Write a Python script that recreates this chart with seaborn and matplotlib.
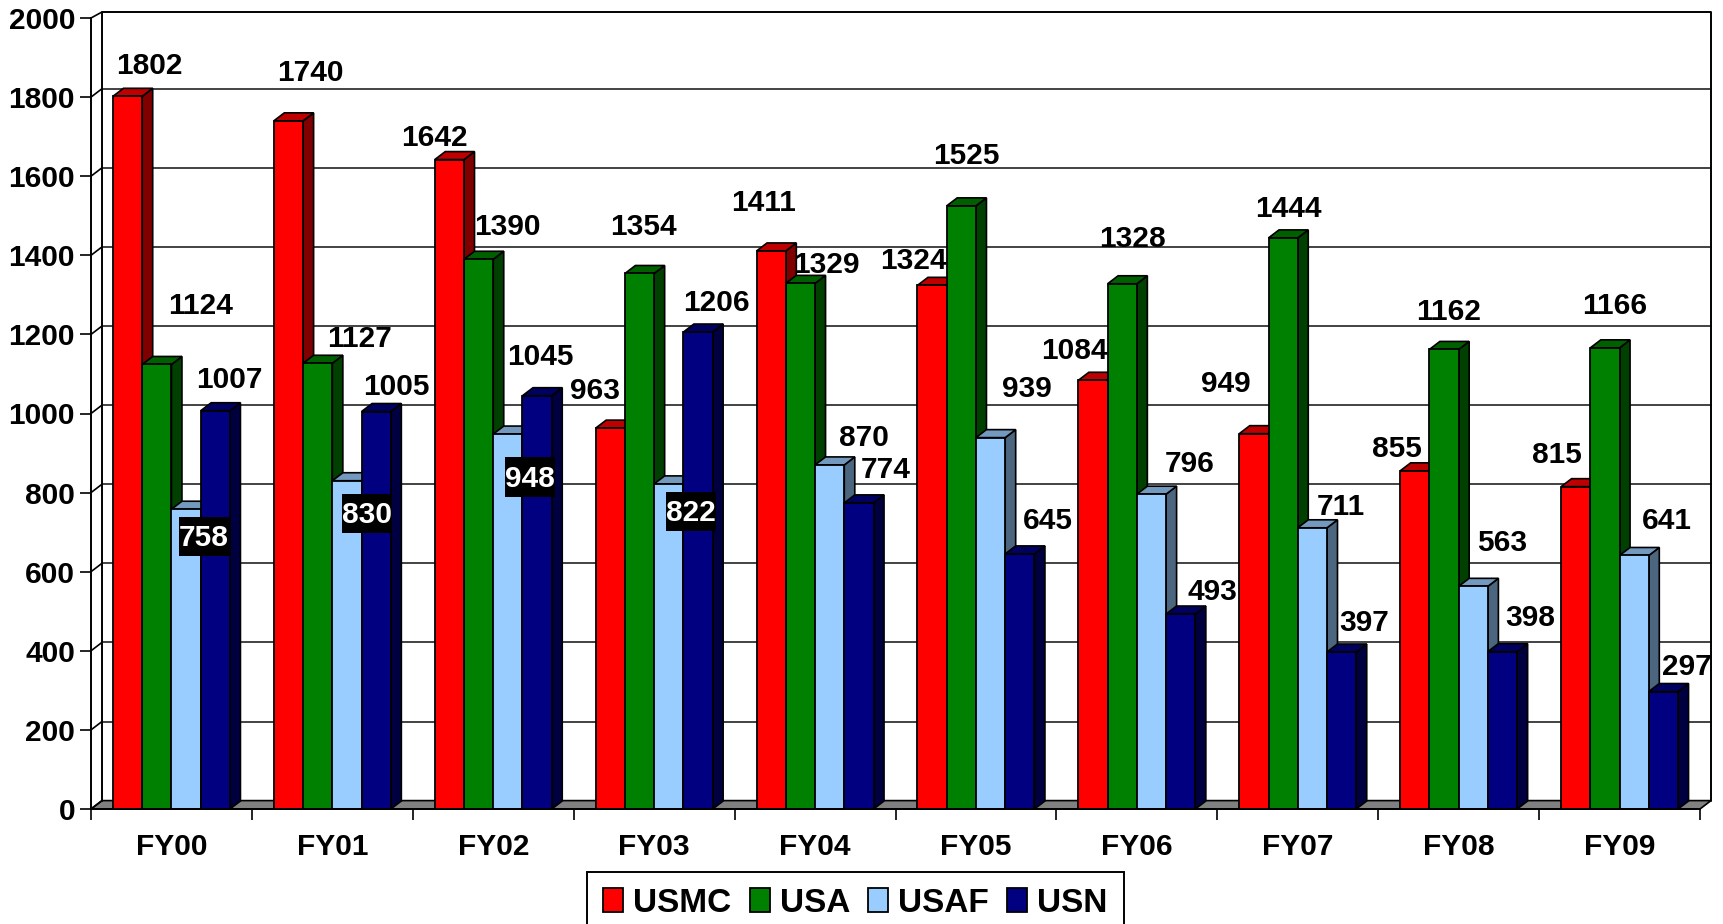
# ==============================================================
# plot.py
# Fake-3D clustered bars by branch and fiscal year
# ==============================================================

import numpy as np
import pandas as pd
import matplotlib
matplotlib.use("Agg")
import matplotlib.pyplot as plt
from matplotlib.patches import Polygon, Rectangle
from matplotlib.colors import to_rgb
import seaborn as sns

# ==============================================================
# Data
# ==============================================================
years = ["FY00", "FY01", "FY02", "FY03", "FY04", "FY05", "FY06", "FY07", "FY08", "FY09"]
branches = ["USMC", "USA", "USAF", "USN"]
usmc = [1802, 1740, 1642, 963, 1411, 1324, 1084, 949, 855, 815]
usa = [1124, 1127, 1390, 1354, 1329, 1525, 1328, 1444, 1162, 1166]
usaf = [758, 830, 948, 822, 870, 939, 796, 711, 563, 641]
usn = [1007, 1005, 1045, 1206, 774, 645, 493, 397, 398, 297]
y_ticks = list(range(0, 2001, 200))

# ==============================================================
# Hand-placed label centres, pixels of the reference
# ==============================================================
usmc_lbl = [(149, 66), (310, 73), (434, 138), (595, 391), (764, 203), (913, 261), (1074, 351), (1226, 384), (1397, 449), (1557, 455)]
usa_lbl = [(201, 306), (360, 339), (507, 227), (643, 227), (826, 265), (966, 156), (1132, 239), (1288, 209), (1449, 312), (1615, 306)]
usaf_lbl = [(204, 536), (367, 513), (530, 477), (691, 511), (864, 438), (1027, 389), (1190, 464), (1341, 507), (1502, 543), (1667, 521)]
usn_lbl = [(229, 380), (396, 387), (540, 357), (716, 303), (886, 470), (1048, 521), (1212, 592), (1364, 623), (1530, 618), (1687, 667)]
boxed_labels = {758, 830, 948, 822}

W, H = 1723, 924
AX_L, AX_R, AX_B, AX_T = 91, 1700, 809, 18
DEPTH_X, DEPTH_Y = 11, 8.4  # back wall offset, pixels
WALL_TOP_DY = 6  # the wall's top edge sits a bit lower than the gridline spacing says
BAR_DX, BAR_DY = 10.5, 8  # bar depth, pixels
BOX_H = 39  # height of the black label boxes, pixels
BOX_TEXT_DY = 2  # digits sit slightly low in their boxes

colors = ["#FF0000", "#008000", "#99CCFF", "#000080"]
FONT = 21.5

sns.set_style("white")
plt.rcParams["font.family"] = ["Liberation Sans", "DejaVu Sans"]
plt.rcParams["font.weight"] = "bold"
plt.rcParams["text.color"] = "black"
plt.rcParams["xtick.color"] = "black"
plt.rcParams["ytick.color"] = "black"

series = [usmc, usa, usaf, usn]
df = pd.DataFrame({
    "year": np.tile(years, len(branches)),
    "branch": np.repeat(branches, len(years)),
    "value": np.concatenate(series),
})

fig = plt.figure(figsize=(W / 100, H / 100), dpi=100)
ax = fig.add_axes([AX_L / W, 1 - AX_B / H, (AX_R - AX_L) / W, (AX_B - AX_T) / H])

sns.barplot(data=df, x="year", y="value", hue="branch", order=years, hue_order=branches,
            palette=colors, saturation=1, width=0.727, gap=0, edgecolor="black",
            linewidth=1.3, err_kws={"linewidth": 0}, ax=ax)

ax.set_xlim(-0.5, len(years) - 0.5)
ax.set_ylim(0, 2000)
ax.set_xlabel("")
ax.set_ylabel("")

# pixel -> data scale factors
px_x = len(years) / (AX_R - AX_L)
px_y = 2000 / (AX_B - AX_T)
wall_dx, wall_dy = DEPTH_X * px_x, DEPTH_Y * px_y
wall_top = 2000 + WALL_TOP_DY * px_y
bar_dx, bar_dy = BAR_DX * px_x, BAR_DY * px_y

# ==============================================================
# Back wall, floor and gridlines
# ==============================================================
x0, x1 = -0.5, len(years) - 0.5
ax.add_patch(Polygon([(x0, 0), (x0 + wall_dx, wall_dy), (x1 + wall_dx, wall_dy), (x1, 0)],
                     closed=True, facecolor="#808080", edgecolor="black", linewidth=1.2,
                     clip_on=False, zorder=1))
for t in y_ticks:
    top_y = wall_top if t == y_ticks[-1] else t + wall_dy
    ax.plot([x0, x0 + wall_dx], [t, top_y], color="black", lw=1.2, clip_on=False, zorder=1)
    if 0 < t < y_ticks[-1]:
        ax.plot([x0 + wall_dx, x1 + wall_dx], [top_y] * 2, color="#222222", lw=1.2,
                clip_on=False, zorder=1)
ax.plot([x0 + wall_dx, x0 + wall_dx, x1 + wall_dx, x1 + wall_dx],
        [wall_dy, wall_top, wall_top, wall_dy],
        color="black", lw=1.4, clip_on=False, zorder=1.5)

# ==============================================================
# Bar sides and tops, taken from the bars seaborn drew
# ==============================================================
for j, cont in enumerate(ax.containers):
    base = np.array(to_rgb(colors[j]))
    for i, bar in enumerate(cont):
        left, w, top = bar.get_x(), bar.get_width(), bar.get_height()
        z = 3 + i * 4 + j
        bar.set_zorder(z + 0.2)
        ax.add_patch(Polygon([(left + w, 0), (left + w + bar_dx, bar_dy),
                              (left + w + bar_dx, top + bar_dy), (left + w, top)],
                             closed=True, facecolor=base * 0.5, edgecolor="black",
                             linewidth=1.2, clip_on=False, zorder=z + 0.1))
        ax.add_patch(Polygon([(left, top), (left + bar_dx, top + bar_dy),
                              (left + w + bar_dx, top + bar_dy), (left + w, top)],
                             closed=True, facecolor=base * 0.75, edgecolor="black",
                             linewidth=1.2, clip_on=False, zorder=z + 0.1))

# ==============================================================
# Axes, ticks
# ==============================================================
sns.despine(ax=ax, top=True, right=True)
for side in ["left", "bottom"]:
    ax.spines[side].set_color("black")
    ax.spines[side].set_linewidth(1.4)
    ax.spines[side].set_zorder(100)

ax.set_yticks(y_ticks)
ax.set_yticklabels([str(t) for t in y_ticks], fontsize=FONT, fontweight="bold")
ax.tick_params(axis="y", length=8, width=1.2, pad=3.5, left=True, color="black")
ax.set_xticks(range(len(years)))
ax.set_xticklabels(years, fontsize=FONT, fontweight="bold")
ax.set_xticks(np.arange(len(years) + 1) - 0.5, minor=True)
ax.tick_params(axis="x", which="major", length=0, pad=17)
ax.tick_params(axis="x", which="minor", length=8, width=1.2, bottom=True, color="black")

# ==============================================================
# Value labels
# ==============================================================
renderer = fig.canvas.get_renderer()
for values, spots in zip(series, [usmc_lbl, usa_lbl, usaf_lbl, usn_lbl]):
    for val, (px, py) in zip(values, spots):
        boxed = val in boxed_labels and values is usaf
        text_y = py + BOX_TEXT_DY if boxed else py
        txt = fig.text(px / W, 1 - text_y / H, str(val), ha="center", va="center", fontsize=FONT,
                       fontweight="bold", color="white" if boxed else "black", zorder=5)
        if boxed:
            # box hugs the digits sideways, but is taller than them
            ext = txt.get_window_extent(renderer)
            fig.add_artist(Rectangle((ext.x0 / W, 1 - (py + BOX_H / 2) / H), ext.width / W, BOX_H / H,
                                     transform=fig.transFigure, facecolor="black",
                                     edgecolor="none", zorder=4))

# ==============================================================
# Legend
# ==============================================================
leg = ax.legend(loc="center", bbox_to_anchor=(855.5 / W, 1 - 903 / H), bbox_transform=fig.transFigure,
                ncol=4, frameon=True, fancybox=False, edgecolor="black", facecolor="white",
                framealpha=1, prop={"size": 24, "weight": "bold"}, handlelength=0.6,
                handleheight=0.7, handletextpad=0.3, columnspacing=0.55, borderpad=0.48,
                borderaxespad=0)
leg.get_frame().set_linewidth(1.4)
leg.set_zorder(200)
for h in leg.get_patches():
    h.set_edgecolor("black")
    h.set_linewidth(1.3)

fig.savefig("out.png", dpi=100)
plt.close(fig)
